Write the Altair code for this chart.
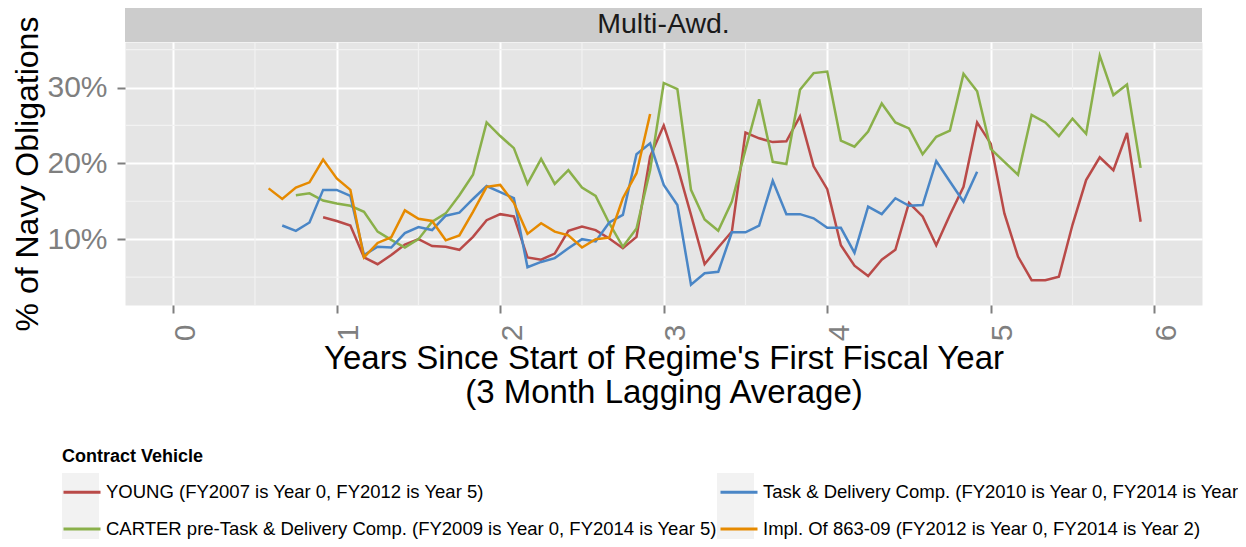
import altair as alt
import pandas as pd

# ---- data (% of Navy obligations) ----
SERIES = [
    "YOUNG (FY2007 is Year 0, FY2012 is Year 5)",
    "CARTER pre-Task & Delivery Comp. (FY2009 is Year 0, FY2014 is Year 5)",
    "Task & Delivery Comp. (FY2010 is Year 0, FY2014 is Year 4)",
    "Impl. Of 863-09 (FY2012 is Year 0, FY2014 is Year 2)",
]
COLORS = ["#B94A48", "#8AB04A", "#4A86C6", "#E68A00"]

# first month (months since start of regime's first fiscal year) of each series
START_MONTH = [11, 9, 8, 7]

young = [12.9, 12.4, 11.8, 7.6, 6.7, 7.9, 9.3, 10.0, 9.1, 9.0,
         8.6, 10.3, 12.5, 13.3, 13.0, 7.6, 7.3, 8.1, 11.1, 11.65,
         11.2, 10.1, 8.8, 10.3, 20.9, 25.0, 19.6, 13.2, 6.7, 8.9,
         11.0, 24.05, 23.3, 22.8, 22.9, 26.2, 19.6, 16.6, 9.2, 6.5,
         5.15, 7.3, 8.6, 14.8, 13.0, 9.2, 13.2, 16.9, 25.4, 22.6,
         13.4, 7.7, 4.6, 4.6, 5.05, 11.9, 17.8, 20.8, 19.1, 24.0,
         12.3]
carter = [15.8, 16.05, 15.1, 14.7, 14.4, 13.6, 11.0, 9.9, 8.9, 10.0,
          12.3, 13.4, 15.8, 18.5, 25.4, 23.6, 22.0, 17.3, 20.6, 17.3,
          19.1, 16.8, 15.7, 12.1, 9.0, 11.4, 19.1, 30.6, 29.8, 16.5,
          12.6, 11.1, 14.95, 21.8, 28.45, 20.2, 19.9, 29.7, 31.9, 32.1,
          23.0, 22.2, 24.2, 27.9, 25.4, 24.6, 21.2, 23.5, 24.3, 31.8,
          29.5, 21.9, 20.2, 18.5, 26.4, 25.4, 23.6, 25.9, 23.9, 34.2,
          29.0, 30.4, 19.4]
task = [11.8, 11.1, 12.2, 16.5, 16.5, 15.7, 7.9, 9.0, 8.9, 10.8,
        11.6, 11.2, 13.1, 13.5, 15.3, 17.0, 16.2, 15.4, 6.3, 7.0,
        7.5, 8.8, 10.0, 9.7, 12.2, 13.2, 21.2, 22.65, 17.15, 14.5,
        4.0, 5.5, 5.7, 10.9, 10.9, 11.8, 17.7, 13.3, 13.3, 12.75,
        11.5, 11.5, 8.2, 14.3, 13.3, 15.4, 14.4, 14.5, 20.3, 17.6,
        14.95, 18.9]
impl = [16.7, 15.3, 16.8, 17.5, 20.5, 18.0, 16.5, 7.6, 9.5, 10.25,
        13.8, 12.7, 12.4, 9.85, 10.5, 13.6, 16.9, 17.15, 14.8, 10.7,
        12.1, 11.0, 10.5, 8.9, 10.0, 10.2, 15.4, 18.7, 26.5]

X_TICKS = [0, 1, 2, 3, 4, 5, 6]
Y_TICKS = [10, 20, 30]
X_MINOR = [0.5, 1.5, 2.5, 3.5, 4.5, 5.5]
Y_MINOR = [5, 15, 25, 35]
PANEL = ["Multi-Awd."]

KEYS = ["#" + s for s in SERIES]  # separate domain for the grey key-box legend

rows = []
for name, start, vals in zip(SERIES, START_MONTH, [young, carter, task, impl]):
    for i, v in enumerate(vals):
        rows.append({"series": name, "key": "#" + name,
                     "years": (start + i) / 12.0, "pct": v})
df = pd.DataFrame(rows)

W, H = 1077, 263
FONT = "Liberation Sans"

xscale = alt.Scale(domain=[-0.295, 6.292], nice=False, zero=False)
yscale = alt.Scale(domain=[1.32, 36.0], nice=False, zero=False)

xaxis = alt.Axis(
    values=X_TICKS, format="d",
    title=["Years Since Start of Regime's First Fiscal Year", "(3 Month Lagging Average)"],
    titleFontSize=33, titleFont=FONT, titleFontWeight="normal", titleColor="black",
    titleLineHeight=34, titleBaseline="middle", titleAlign="center",
    titleX=W / 2, titleY=53,
    labelAngle=270, labelFontSize=30, labelFont=FONT, labelColor="#7F7F7F",
    labelOffset=12, labelPadding=11, labelFlush=False, labelOverlap=False,
    tickSize=8, tickColor="#7F7F7F", tickWidth=2,
    domain=False, grid=True, gridColor="white", gridWidth=2)
yaxis = alt.Axis(
    values=Y_TICKS, labelExpr="datum.value + '%'",
    title="% of Navy Obligations",
    titleFontSize=32, titleFont=FONT, titleFontWeight="normal", titleColor="black",
    titleAngle=270, titleBaseline="middle", titleAlign="center",
    titleX=-98, titleY=H / 2,
    labelFontSize=30, labelFont=FONT, labelColor="#7F7F7F", labelPadding=10,
    labelOverlap=False,
    tickSize=8, tickColor="#7F7F7F", tickWidth=2,
    domain=False, grid=True, gridColor="white", gridWidth=2)

lines = alt.Chart(df).mark_line(strokeWidth=2.5).encode(
    x=alt.X("years:Q", scale=xscale, axis=xaxis),
    y=alt.Y("pct:Q", scale=yscale, axis=yaxis),
    color=alt.Color("series:N", scale=alt.Scale(domain=SERIES, range=COLORS),
                    legend=alt.Legend(
                        title="Contract Vehicle", orient="none", legendX=-63, legendY=406,
                        columns=2, symbolType="stroke", symbolSize=1369, symbolStrokeWidth=3,
                        labelFontSize=18.5, labelFont=FONT, labelColor="black",
                        labelLimit=1000, labelOffset=4, titleFontSize=18, titleFont=FONT,
                        titleFontWeight="bold", titleColor="black", titlePadding=6,
                        rowPadding=7, columnPadding=-4, padding=0, zindex=2)),
)

# invisible layer that only supplies the grey key boxes behind the legend lines
keys = alt.Chart(df).mark_point(shape="square", filled=True, opacity=0).encode(
    x=alt.X("years:Q", scale=xscale, axis=xaxis),
    y=alt.Y("pct:Q", scale=yscale, axis=yaxis),
    fill=alt.Fill("key:N", scale=alt.Scale(domain=KEYS, range=["#F2F2F2"] * 4),
                  legend=alt.Legend(
                      title=None, orient="none", legendX=-63, legendY=431, columns=2,
                      symbolType="square", symbolSize=1369, symbolOpacity=1,
                      symbolStrokeWidth=0, labelExpr="''", labelFontSize=1,
                      labelOffset=4, rowPadding=0, columnPadding=614, padding=0,
                      zindex=1)),
)

minor_x = alt.Chart(pd.DataFrame({"mx": X_MINOR})).mark_rule(
    color="#F2F2F2", strokeWidth=1.2).encode(x=alt.X("mx:Q", scale=xscale, axis=xaxis))
minor_y = alt.Chart(pd.DataFrame({"my": Y_MINOR})).mark_rule(
    color="#F2F2F2", strokeWidth=1.2).encode(y=alt.Y("my:Q", scale=yscale, axis=yaxis))

strip = alt.Chart(pd.DataFrame({"label": PANEL})).mark_rect(color="#CCCCCC").encode(
    x=alt.value(0), x2=alt.value(W), y=alt.value(-34), y2=alt.value(0))
strip_text = alt.Chart(pd.DataFrame({"label": PANEL})).mark_text(
    fontSize=28.5, font=FONT, color="#1A1A1A", baseline="middle", align="center").encode(
    x=alt.value(W / 2), y=alt.value(-18), text="label:N")

chart = alt.layer(minor_x, minor_y, keys, lines, strip, strip_text).properties(
    width=W, height=H,
    padding={"left": 117, "top": 34, "right": 36, "bottom": 234},
    autosize=alt.AutoSizeParams(type="none"),
).configure(font=FONT).configure_view(fill="#E5E5E5", stroke="transparent")

chart.save("out.html", embed_options={"renderer": "svg", "actions": False})
